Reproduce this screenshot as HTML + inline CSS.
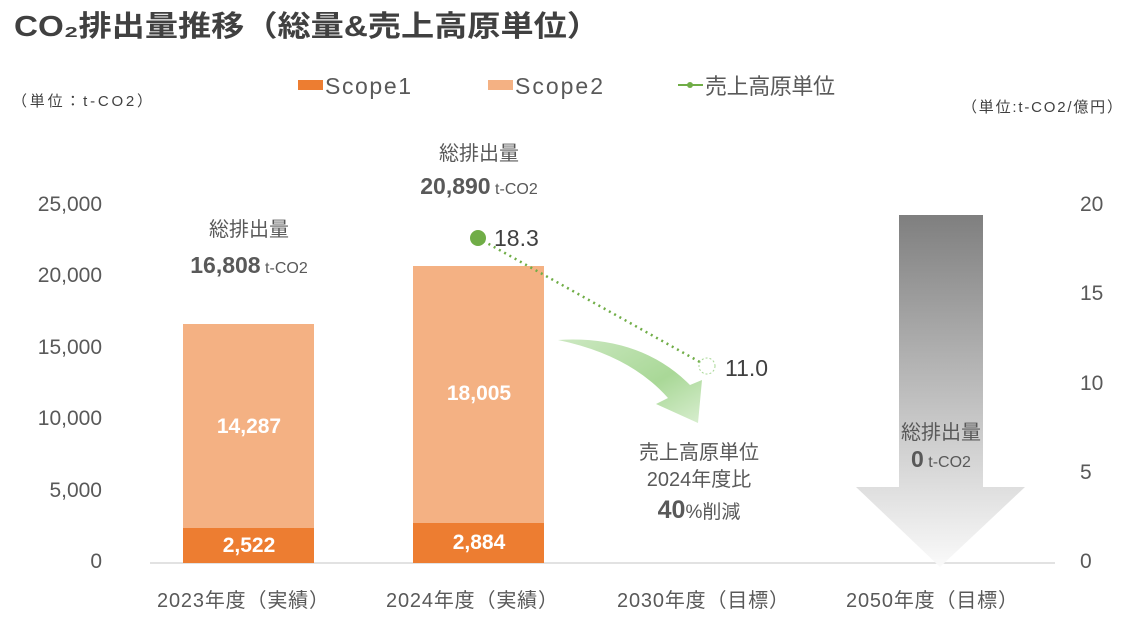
<!DOCTYPE html>
<html><head><meta charset="utf-8"><style>
body{margin:0;background:#fff}
svg text{font-family:"Liberation Sans","Noto Sans CJK JP",sans-serif}
</style></head><body>
<svg width="1138" height="624" viewBox="0 0 1138 624" xmlns="http://www.w3.org/2000/svg">
<defs>
<linearGradient id="g" x1="0" y1="0" x2="0" y2="1">
<stop offset="0" stop-color="#7f7f7f"/><stop offset="1" stop-color="#fafafa"/></linearGradient>
<linearGradient id="gr" x1="0" y1="0" x2="1" y2="1">
<stop offset="0" stop-color="#a9d897" stop-opacity="0.6"/><stop offset="0.6" stop-color="#a9d897"/><stop offset="1" stop-color="#d8eecf"/></linearGradient>
</defs>
<text x="14" y="36" font-size="29" font-weight="bold" fill="#404040" textLength="586" lengthAdjust="spacingAndGlyphs">CO₂排出量推移（総量&amp;売上高原単位）</text>
<rect x="298" y="80" width="25" height="10" fill="#ed7d31"/>
<text x="325" y="94" font-size="23" fill="#595959" textLength="86">Scope1</text>
<rect x="488" y="80" width="25" height="10" fill="#f4b183"/>
<text x="515" y="94" font-size="23" fill="#595959" textLength="88">Scope2</text>
<line x1="678" y1="85" x2="703" y2="85" stroke="#70ad47" stroke-width="2"/><circle cx="690" cy="85" r="3" fill="#70ad47"/>
<text x="705" y="94" font-size="22" fill="#595959" textLength="130">売上高原単位</text>
<text x="12" y="106" font-size="15" fill="#404040" textLength="140">（単位：t-CO2）</text>
<text x="962" y="112" font-size="15" fill="#404040" textLength="160">（単位:t-CO2/億円）</text>
<g font-size="21" fill="#595959" text-anchor="end">
<text x="102" y="211">25,000</text><text x="102" y="282">20,000</text><text x="102" y="354">15,000</text>
<text x="102" y="425">10,000</text><text x="102" y="497">5,000</text><text x="102" y="568">0</text></g>
<g font-size="21" fill="#595959">
<text x="1080" y="211">20</text><text x="1080" y="300">15</text><text x="1080" y="390">10</text>
<text x="1080" y="479">5</text><text x="1080" y="568">0</text></g>
<line x1="150" y1="563" x2="1055" y2="563" stroke="#d9d9d9" stroke-width="1.5"/>
<rect x="183" y="324" width="131" height="204" fill="#f4b183"/>
<rect x="183" y="528" width="131" height="35" fill="#ed7d31"/>
<rect x="413" y="266" width="131" height="257" fill="#f4b183"/>
<rect x="413" y="523" width="131" height="40" fill="#ed7d31"/>
<g font-size="21" font-weight="bold" fill="#fff" text-anchor="middle">
<text x="249" y="433">14,287</text><text x="249" y="552">2,522</text>
<text x="479" y="400">18,005</text><text x="479" y="549">2,884</text></g>
<g fill="#595959" text-anchor="middle">
<text x="249" y="236" font-size="20">総排出量</text>
<text x="249" y="273"><tspan font-size="23" font-weight="bold">16,808</tspan><tspan font-size="16"> t-CO2</tspan></text>
<text x="479" y="160" font-size="20">総排出量</text>
<text x="479" y="194"><tspan font-size="23" font-weight="bold">20,890</tspan><tspan font-size="16"> t-CO2</tspan></text>
</g>
<path d="M558 340 Q640 335 690 385 L702 380 L698 423 L656 404 L668 398 Q630 355 558 340Z" fill="url(#gr)"/>
<line x1="478" y1="238" x2="707" y2="366" stroke="#70ad47" stroke-width="2.5" stroke-dasharray="2,4"/>
<circle cx="478" cy="238" r="8" fill="#70ad47"/>
<circle cx="707" cy="366" r="8" fill="#fff" stroke="#a9d897" stroke-width="1" stroke-dasharray="2,2"/>
<text x="494" y="246" font-size="23" fill="#404040">18.3</text>
<text x="725" y="376" font-size="23" fill="#404040">11.0</text>
<g fill="#595959" text-anchor="middle">
<text x="699" y="459" font-size="20">売上高原単位</text>
<text x="699" y="486" font-size="20">2024年度比</text>
<text x="699" y="518"><tspan font-size="25" font-weight="bold">40</tspan><tspan font-size="19">%削減</tspan></text></g>
<path d="M899 215 H983 V487 H1025 L940 567 L856 487 H899Z" fill="url(#g)"/>
<text x="941" y="439" font-size="20" fill="#595959" text-anchor="middle">総排出量</text>
<text x="941" y="467" text-anchor="middle" fill="#595959"><tspan font-size="23" font-weight="bold">0</tspan><tspan font-size="16"> t-CO2</tspan></text>
<g font-size="20" fill="#595959" text-anchor="middle">
<text x="243" y="607" textLength="172">2023年度（実績）</text><text x="472" y="607" textLength="172">2024年度（実績）</text>
<text x="703" y="607" textLength="172">2030年度（目標）</text><text x="932" y="607" textLength="172">2050年度（目標）</text></g>
</svg>
</body></html>
